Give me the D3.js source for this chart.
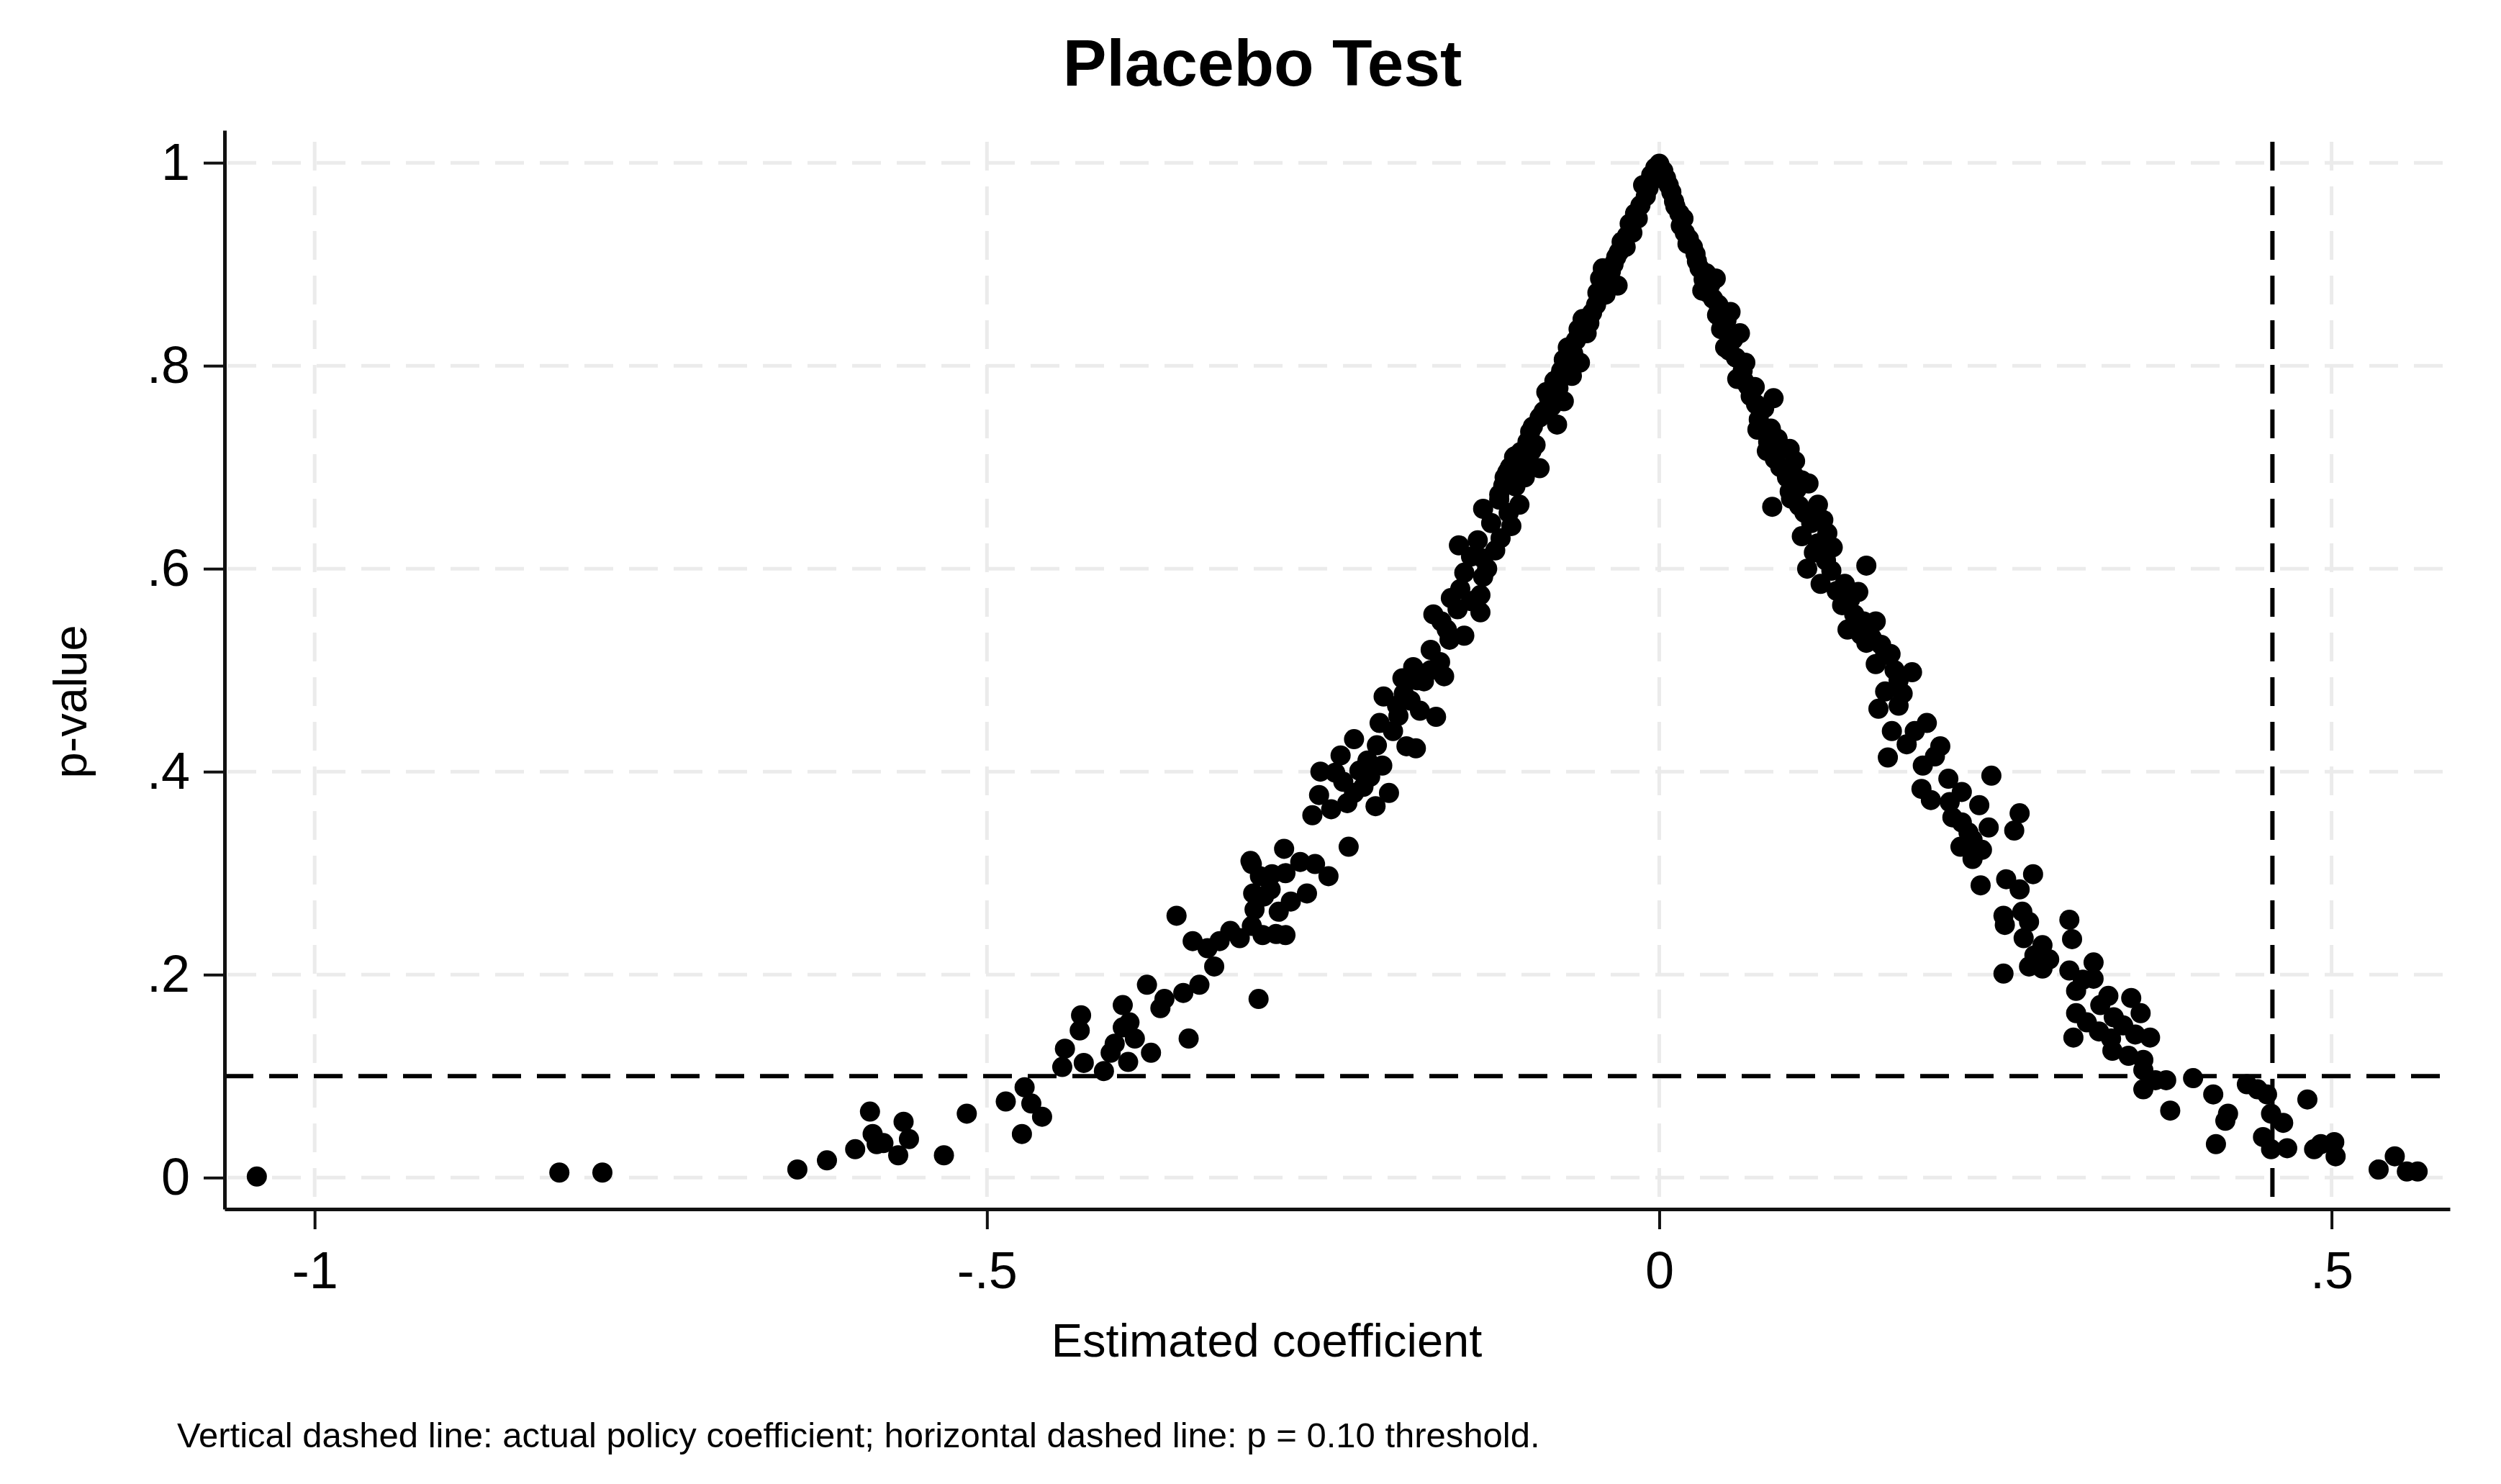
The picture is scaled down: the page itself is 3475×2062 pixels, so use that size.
<!DOCTYPE html>
<html>
<head>
<meta charset="utf-8">
<script src="https://cdn.jsdelivr.net/npm/d3@7"></script>
<style>
  html, body { margin: 0; padding: 0; background: #fff; }
  svg { display: block; font-family: "Liberation Sans", Arial, sans-serif; }
</style>
</head>
<body>
<svg id="chart"></svg>
<script>
// placebo estimates: [coefficient, p-value]
const leftTail = [
  [-1.043, 0.001], [-0.818, 0.005], [-0.786, 0.005],
  [-0.641, 0.008], [-0.619, 0.017], [-0.598, 0.028], [-0.587, 0.065], [-0.585, 0.043],
  [-0.582, 0.033], [-0.577, 0.034], [-0.562, 0.055], [-0.558, 0.038], [-0.566, 0.022],
  [-0.532, 0.022], [-0.515, 0.063], [-0.486, 0.075], [-0.472, 0.089], [-0.467, 0.073],
  [-0.459, 0.060], [-0.474, 0.043]
];

const leftLow = [
  [-0.444, 0.109], [-0.442, 0.127], [-0.431, 0.145], [-0.430, 0.160], [-0.428, 0.113],
  [-0.413, 0.105], [-0.408, 0.123], [-0.405, 0.132], [-0.399, 0.148], [-0.399, 0.170],
  [-0.394, 0.153], [-0.395, 0.114], [-0.390, 0.137], [-0.378, 0.123], [-0.381, 0.190],
  [-0.371, 0.167], [-0.368, 0.176], [-0.354, 0.182], [-0.342, 0.190], [-0.350, 0.137],
  [-0.359, 0.258], [-0.347, 0.233], [-0.336, 0.226], [-0.331, 0.208], [-0.327, 0.233],
  [-0.319, 0.243], [-0.312, 0.236], [-0.303, 0.248], [-0.295, 0.239], [-0.285, 0.240],
  [-0.278, 0.239], [-0.301, 0.264], [-0.294, 0.277], [-0.289, 0.284], [-0.302, 0.280],
  [-0.303, 0.309], [-0.297, 0.297], [-0.288, 0.299], [-0.278, 0.300], [-0.246, 0.297],
  [-0.262, 0.280], [-0.274, 0.272], [-0.298, 0.176], [-0.283, 0.262]
];

const leftMid = [
  [-0.304, 0.312], [-0.279, 0.324], [-0.267, 0.311], [-0.256, 0.309], [-0.231, 0.326],
  [-0.258, 0.357], [-0.253, 0.377], [-0.244, 0.363], [-0.232, 0.369], [-0.227, 0.379],
  [-0.252, 0.400], [-0.241, 0.399], [-0.237, 0.416], [-0.227, 0.432], [-0.223, 0.401],
  [-0.217, 0.411], [-0.210, 0.426], [-0.206, 0.406], [-0.211, 0.366], [-0.201, 0.379],
  [-0.188, 0.425], [-0.181, 0.423], [-0.208, 0.448], [-0.205, 0.474], [-0.194, 0.455],
  [-0.191, 0.492], [-0.190, 0.477], [-0.183, 0.503], [-0.178, 0.460], [-0.166, 0.454],
  [-0.175, 0.489], [-0.163, 0.508], [-0.160, 0.494], [-0.168, 0.555], [-0.162, 0.548],
  [-0.155, 0.571], [-0.156, 0.530], [-0.145, 0.534], [-0.133, 0.557], [-0.145, 0.596],
  [-0.133, 0.574], [-0.131, 0.592], [-0.149, 0.623], [-0.135, 0.628], [-0.122, 0.618],
  [-0.131, 0.610], [-0.131, 0.659], [-0.119, 0.668], [-0.110, 0.642], [-0.107, 0.681],
  [-0.104, 0.663], [-0.108, 0.710], [-0.089, 0.699], [-0.095, 0.716], [-0.235, 0.390],
  [-0.220, 0.385], [-0.215, 0.395], [-0.198, 0.440], [-0.185, 0.470], [-0.170, 0.500],
  [-0.148, 0.580], [-0.140, 0.612], [-0.125, 0.645], [-0.115, 0.690], [-0.150, 0.560],
  [-0.140, 0.568], [-0.128, 0.600], [-0.118, 0.630], [-0.112, 0.655], [-0.100, 0.690],
  [-0.158, 0.540], [-0.170, 0.520], [-0.180, 0.490], [-0.195, 0.465]
];

const leftTop = [
  [-0.006, 0.988], [-0.010, 0.967], [-0.018, 0.950], [-0.020, 0.931], [-0.025, 0.917],
  [-0.032, 0.907], [-0.036, 0.893], [-0.044, 0.886], [-0.031, 0.879], [-0.047, 0.860],
  [-0.057, 0.846], [-0.054, 0.832], [-0.068, 0.818], [-0.071, 0.806], [-0.059, 0.803],
  [-0.084, 0.774], [-0.071, 0.765], [-0.089, 0.749], [-0.076, 0.742], [-0.096, 0.735],
  [-0.107, 0.711], [-0.109, 0.685], [-0.119, 0.673], [-0.003, 0.995], [-0.014, 0.958],
  [-0.022, 0.940], [-0.028, 0.922], [-0.040, 0.870], [-0.050, 0.852], [-0.062, 0.825],
  [-0.065, 0.790], [-0.078, 0.785], [-0.080, 0.760], [-0.092, 0.722], [-0.100, 0.705],
  [-0.113, 0.695], [-0.064, 0.812], [-0.042, 0.896], [-0.008, 0.975], [-0.016, 0.945],
  [-0.024, 0.928], [-0.034, 0.900], [-0.038, 0.884], [-0.046, 0.872], [-0.052, 0.842],
  [-0.060, 0.836], [-0.066, 0.800], [-0.073, 0.795], [-0.075, 0.778], [-0.082, 0.768],
  [-0.086, 0.755], [-0.094, 0.740], [-0.098, 0.725], [-0.103, 0.715], [-0.111, 0.700],
  [-0.116, 0.682], [-0.012, 0.978], [-0.030, 0.912]
];

const peak = [[0.000, 0.999], [0.002, 0.993], [-0.002, 0.985]];

const rightTop = [
  [0.005, 0.985], [0.009, 0.971], [0.012, 0.957], [0.018, 0.945], [0.019, 0.931],
  [0.025, 0.917], [0.028, 0.903], [0.035, 0.891], [0.042, 0.886], [0.032, 0.874],
  [0.044, 0.860], [0.053, 0.853], [0.046, 0.836], [0.060, 0.832], [0.049, 0.818],
  [0.064, 0.803], [0.058, 0.787], [0.071, 0.779], [0.085, 0.768], [0.074, 0.747],
  [0.088, 0.728], [0.080, 0.716], [0.101, 0.706], [0.106, 0.687], [0.097, 0.676],
  [0.003, 0.992], [0.015, 0.950], [0.022, 0.925], [0.030, 0.896], [0.038, 0.880],
  [0.050, 0.845], [0.055, 0.826], [0.062, 0.795], [0.068, 0.770], [0.078, 0.758],
  [0.083, 0.738], [0.092, 0.718], [0.040, 0.866], [0.007, 0.978], [0.011, 0.962],
  [0.016, 0.938], [0.021, 0.920], [0.027, 0.910], [0.033, 0.885], [0.036, 0.872],
  [0.043, 0.850], [0.047, 0.842], [0.052, 0.815], [0.057, 0.808], [0.063, 0.785],
  [0.066, 0.780], [0.072, 0.762], [0.076, 0.740], [0.081, 0.725], [0.086, 0.708],
  [0.090, 0.700], [0.095, 0.690], [0.102, 0.678]
];

const rightMid = [
  [0.073, 0.737], [0.084, 0.716], [0.097, 0.718], [0.100, 0.692], [0.111, 0.684],
  [0.098, 0.669], [0.084, 0.661], [0.118, 0.663], [0.122, 0.648], [0.106, 0.632],
  [0.129, 0.621], [0.115, 0.616], [0.154, 0.603], [0.120, 0.585], [0.148, 0.577],
  [0.136, 0.564], [0.161, 0.548], [0.140, 0.540], [0.154, 0.527], [0.172, 0.516],
  [0.161, 0.506], [0.188, 0.498], [0.168, 0.479], [0.181, 0.477], [0.163, 0.462],
  [0.199, 0.448], [0.173, 0.440], [0.184, 0.427], [0.209, 0.425], [0.170, 0.414],
  [0.196, 0.406], [0.215, 0.393], [0.247, 0.396], [0.195, 0.383], [0.202, 0.372],
  [0.216, 0.370], [0.238, 0.367], [0.268, 0.359], [0.108, 0.655], [0.125, 0.635],
  [0.110, 0.600], [0.128, 0.598], [0.132, 0.578], [0.145, 0.555], [0.150, 0.535],
  [0.165, 0.525], [0.175, 0.500], [0.178, 0.465], [0.190, 0.440], [0.205, 0.415],
  [0.225, 0.380], [0.104, 0.662], [0.113, 0.645], [0.118, 0.625], [0.124, 0.608],
  [0.138, 0.585], [0.142, 0.570], [0.152, 0.548], [0.158, 0.532], [0.168, 0.515],
  [0.178, 0.490]
];

const rightLow = [
  [0.225, 0.350], [0.245, 0.345], [0.233, 0.333], [0.224, 0.326], [0.240, 0.323],
  [0.233, 0.314], [0.264, 0.342], [0.239, 0.288], [0.258, 0.294], [0.268, 0.284],
  [0.278, 0.299], [0.256, 0.258], [0.257, 0.249], [0.270, 0.262], [0.275, 0.252],
  [0.271, 0.236], [0.285, 0.229], [0.279, 0.219], [0.275, 0.208], [0.285, 0.206],
  [0.256, 0.201], [0.305, 0.254], [0.307, 0.235], [0.305, 0.204], [0.323, 0.212],
  [0.310, 0.184], [0.323, 0.196], [0.334, 0.179], [0.351, 0.177], [0.358, 0.162],
  [0.310, 0.162], [0.338, 0.158], [0.318, 0.153], [0.327, 0.144], [0.308, 0.138],
  [0.336, 0.137], [0.354, 0.141], [0.365, 0.138], [0.337, 0.125], [0.349, 0.120],
  [0.360, 0.116], [0.360, 0.106], [0.369, 0.096], [0.377, 0.096], [0.397, 0.098],
  [0.360, 0.087], [0.412, 0.082], [0.437, 0.092], [0.230, 0.340], [0.218, 0.355],
  [0.328, 0.170], [0.345, 0.150], [0.315, 0.195], [0.290, 0.215]
];

const rightTail = [
  [0.380, 0.066], [0.423, 0.063], [0.421, 0.056], [0.445, 0.087], [0.452, 0.082],
  [0.455, 0.063], [0.464, 0.054], [0.414, 0.033], [0.449, 0.040], [0.455, 0.028],
  [0.467, 0.029], [0.482, 0.077], [0.487, 0.028], [0.492, 0.033], [0.502, 0.035],
  [0.503, 0.021], [0.535, 0.008], [0.547, 0.021], [0.556, 0.006], [0.564, 0.006]
];

const actualCoef = 0.456;
const pThreshold = 0.10;

const xTicks = [-1, -0.5, 0, 0.5];
const xTickLabels = ["-1", "-.5", "0", ".5"];
const yTicks = [0, 0.2, 0.4, 0.6, 0.8, 1];
const yTickLabels = ["0", ".2", ".4", ".6", ".8", "1"];

const titleText = "Placebo Test";
const xTitle = "Estimated coefficient";
const yTitle = "p-value";
const noteText = "Vertical dashed line: actual policy coefficient; horizontal dashed line: p = 0.10 threshold.";

const points = [].concat(leftTail, leftLow, leftMid, leftTop, peak, rightTop, rightMid, rightLow, rightTail);

const W = 3475, H = 2062;
const margin = {top: 181, right: 71, bottom: 382, left: 312};
const plotTop = 197;

const svg = d3.select("#chart").attr("width", W).attr("height", H);

const x = d3.scaleLinear().domain([-1.067, 0.588]).range([margin.left, W - margin.right]);
const y = d3.scaleLinear().domain([-0.031, 1.032]).range([H - margin.bottom, margin.top]);

const dash = "40 22";

// grid
const grid = svg.append("g").attr("stroke", "#ebebeb").attr("stroke-width", 5).attr("stroke-dasharray", dash);
grid.selectAll("line.h").data(yTicks).join("line").attr("class", "h")
    .attr("x1", margin.left + 4).attr("x2", W - margin.right)
    .attr("y1", d => y(d)).attr("y2", d => y(d));
grid.selectAll("line.v").data(xTicks).join("line").attr("class", "v")
    .attr("x1", d => x(d)).attr("x2", d => x(d))
    .attr("y1", plotTop).attr("y2", H - margin.bottom);

// markers
svg.append("g").selectAll("circle").data(points).join("circle")
    .attr("cx", d => x(d[0])).attr("cy", d => y(d[1]))
    .attr("r", 14).attr("fill", "#000");

// reference lines
svg.append("line")
    .attr("x1", margin.left).attr("x2", W - margin.right)
    .attr("y1", y(pThreshold)).attr("y2", y(pThreshold))
    .attr("stroke", "#000").attr("stroke-width", 6).attr("stroke-dasharray", dash);
svg.append("line")
    .attr("x1", x(actualCoef)).attr("x2", x(actualCoef))
    .attr("y1", plotTop).attr("y2", H - margin.bottom)
    .attr("stroke", "#000").attr("stroke-width", 6).attr("stroke-dasharray", dash);

// axes
const xAxis = d3.axisBottom(x).tickValues(xTicks)
    .tickFormat((d, i) => xTickLabels[i]).tickSize(28).tickSizeOuter(0).tickPadding(31);
const yAxis = d3.axisLeft(y).tickValues(yTicks)
    .tickFormat((d, i) => yTickLabels[i]).tickSize(29).tickSizeOuter(0).tickPadding(19);

const gx = svg.append("g").attr("transform", `translate(0,${H - margin.bottom})`).call(xAxis);
const gy = svg.append("g").attr("transform", `translate(${margin.left},0)`).call(yAxis);

[gx, gy].forEach(g => {
    g.select(".domain").attr("stroke", "#111").attr("stroke-width", 5);
    g.selectAll(".tick line").attr("stroke", "#111").attr("stroke-width", 4);
    g.selectAll(".tick text").attr("fill", "#000").attr("font-size", 72)
        .attr("font-family", "'Liberation Sans', Arial, sans-serif");
});

// titles
svg.append("text").attr("x", 1754).attr("y", 119).attr("text-anchor", "middle")
    .attr("font-size", 91).attr("font-weight", "bold").attr("fill", "#000").text(titleText);

svg.append("text").attr("x", 1760).attr("y", 1885).attr("text-anchor", "middle")
    .attr("font-size", 65).attr("fill", "#000").text(xTitle);

svg.append("text").attr("transform", "translate(120,975) rotate(-90)").attr("text-anchor", "middle")
    .attr("font-size", 65).attr("fill", "#000").text(yTitle);

svg.append("text").attr("x", 246).attr("y", 2011)
    .attr("font-size", 49).attr("fill", "#000").text(noteText);
</script>
</body>
</html>
